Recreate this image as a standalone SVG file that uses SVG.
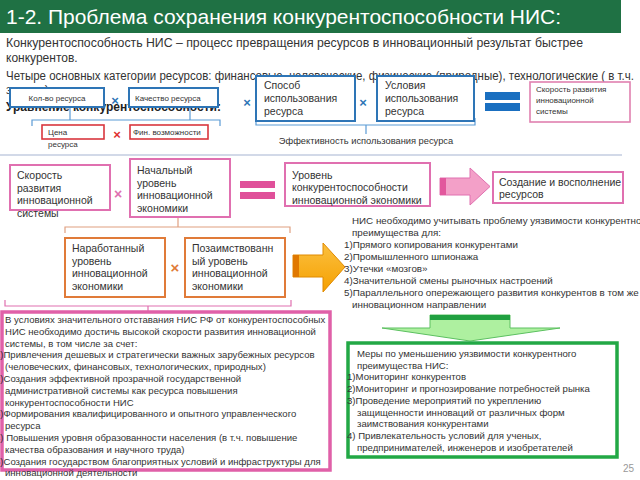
<svg xmlns="http://www.w3.org/2000/svg" width="640" height="480" viewBox="0 0 640 480">
<defs>
<style>
text{font-family:"Liberation Sans","DejaVu Sans",Arial,sans-serif;fill:#333}
.t{font-size:12px}
.s8{font-size:8px}
.s9{font-size:9.8px}
.sp{font-size:9.55px}
.sg{font-size:9.6px}
.s10{font-size:10.5px}
.bb{fill:#fff;stroke:#2e75b6;stroke-width:2}
.rb{fill:#fff;stroke:#d9363e;stroke-width:1.6}
.pb{fill:#fff;stroke:#e070b0;stroke-width:2}
.ob{fill:#fff;stroke:#e07b39;stroke-width:2}
.xb{font-size:13px;font-weight:bold;fill:#2e75b6}
.xr{font-size:13px;font-weight:bold;fill:#e03030}
.xp{font-size:14px;font-weight:bold;fill:#e070b0}
.xo{font-size:15px;font-weight:bold;fill:#e07b39}
</style>
<linearGradient id="og" x1="0" y1="0" x2="0" y2="1"><stop offset="0" stop-color="#fbc040"/><stop offset="1" stop-color="#f5a000"/></linearGradient>
</defs>

<g id="header">
<rect x="0" y="0" width="621" height="33" fill="#1f7144"/>
<text x="6" y="24" textLength="555" lengthAdjust="spacingAndGlyphs" style="font-size:21px;fill:#fff">1-2. Проблема сохранения конкурентоспособности НИС:</text>
</g>

<g id="intro">
<text class="t" x="6" y="47" textLength="577" lengthAdjust="spacingAndGlyphs">Конкурентоспособность НИС – процесс превращения ресурсов в инновационный результат быстрее</text>
<text class="t" x="6" y="62">конкурентов.</text>
<text class="t" x="6" y="80" textLength="628" lengthAdjust="spacingAndGlyphs">Четыре основных категории ресурсов: финансовые, человеческие, физические (природные), технологические ( в т.ч.</text>
<text class="t" x="6" y="94">знания)</text>
<text x="6" y="111" style="font-size:12px;font-weight:bold;fill:#222">Уравнение конкурентоспособности:</text>
</g>

<g id="connectors" fill="none">
<path d="M32,126 V120 H220 V126 M70,107 V120 M190,107 V120" stroke="#5b9bd5" stroke-width="1.2"/>
<path d="M256,118 V125 H475 V118 M366,125 V134" stroke="#5b9bd5" stroke-width="1.2"/>
<line x1="0" y1="155" x2="622" y2="155" stroke="#c3cde0" stroke-width="1.5"/>
<path d="M65,233 V227 H290 V233 M178,217 V227" stroke="#e0a080" stroke-width="1.2"/>
<path d="M5,300 V306 H291 V300 M148,306 V312" stroke="#e070b0" stroke-width="1.2"/>
</g>

<g id="kolvo"><rect class="bb" x="10" y="88" width="94" height="19"/><text class="s8" x="57" y="100.5" text-anchor="middle">Кол-во ресурса</text></g>
<text class="xb" x="115" y="105" text-anchor="middle">×</text>
<g id="kachestvo"><rect class="bb" x="129" y="88" width="89" height="19"/><text class="s8" x="135" y="100.5">Качество ресурса</text></g>
<text class="xb" x="247" y="107" text-anchor="middle">×</text>
<g id="sposob"><rect class="bb" x="256" y="76" width="99" height="45"/>
<text class="s10" x="264"><tspan x="264" y="89">Способ</tspan><tspan x="264" y="102">использования</tspan><tspan x="264" y="115">ресурса</tspan></text></g>
<text class="xb" x="363" y="107" text-anchor="middle">×</text>
<g id="usloviya"><rect class="bb" x="377" y="76" width="97" height="45"/>
<text class="s10" x="385"><tspan x="385" y="89">Условия</tspan><tspan x="385" y="102">использования</tspan><tspan x="385" y="115">ресурса</tspan></text></g>
<g id="eq1" fill="#1a6fc0"><rect x="485" y="92" width="35" height="8"/><rect x="485" y="103" width="35" height="8"/></g>
<g id="skorost1"><rect x="530" y="82" width="100" height="40" fill="#fff" stroke="#e080b0" stroke-width="1.6"/>
<text class="s8" x="536"><tspan x="536" y="92">Скорость развития</tspan><tspan x="536" y="103">инновационной</tspan><tspan x="536" y="114">системы</tspan></text></g>
<g id="tsena"><rect class="rb" x="42" y="125" width="62" height="14"/><text class="s8" x="48"><tspan x="48" y="135">Цена</tspan><tspan x="48" y="147">ресурса</tspan></text></g>
<text class="xr" x="117" y="139" text-anchor="middle">×</text>
<g id="fin"><rect class="rb" x="130" y="125" width="78" height="14"/><text class="s8" x="133" y="135">Фин. возможности</text></g>
<text x="366" y="144" text-anchor="middle" style="font-size:9.3px">Эффективность использования ресурса</text>

<g id="skorost2"><rect class="pb" x="10" y="165" width="100" height="45"/>
<text class="s10"><tspan x="17" y="179">Скорость</tspan><tspan x="17" y="191.5">развития</tspan><tspan x="17" y="204">инновационной</tspan><tspan x="17" y="216.5">системы</tspan></text></g>
<text class="xp" x="118" y="199" text-anchor="middle">×</text>
<g id="nachalny"><rect class="pb" x="130" y="159" width="100" height="58"/>
<text class="s10"><tspan x="137" y="174">Начальный</tspan><tspan x="137" y="186.5">уровень</tspan><tspan x="137" y="199">инновационной</tspan><tspan x="137" y="211.5">экономики</tspan></text></g>
<g id="eq2" fill="#e0509a"><rect x="240" y="181" width="35" height="7"/><rect x="240" y="192" width="35" height="7"/></g>
<g id="uroven"><rect class="pb" x="285" y="163" width="145" height="43"/>
<text class="s10"><tspan x="292" y="178.5">Уровень</tspan><tspan x="292" y="191">конкурентоспособности</tspan><tspan x="292" y="203.5">инновационной экономики</tspan></text></g>
<g id="arrowPink"><polygon points="440,178 470,178 470,168 490,186.5 470,205 470,195 440,195" fill="#f3a0c8" stroke="#e070b0" stroke-width="1"/><rect x="440" y="178" width="6" height="17" fill="#e2579d"/></g>
<g id="sozdanie"><rect class="pb" x="493" y="172" width="130" height="31"/>
<text class="s10"><tspan x="499" y="186">Создание и восполнение</tspan><tspan x="499" y="198">ресурсов</tspan></text></g>

<g id="narabotanny"><rect class="ob" x="65" y="238" width="100" height="59"/>
<text class="s10"><tspan x="72" y="252">Наработанный</tspan><tspan x="72" y="264.5">уровень</tspan><tspan x="72" y="277">инновационной</tspan><tspan x="72" y="289.5">экономики</tspan></text></g>
<text class="xo" x="175" y="273" text-anchor="middle">×</text>
<g id="pozaimstv"><rect class="ob" x="185" y="238" width="100" height="59"/>
<text class="s10"><tspan x="192" y="252">Позаимствованн</tspan><tspan x="192" y="264.5">ый уровень</tspan><tspan x="192" y="277">инновационной</tspan><tspan x="192" y="289.5">экономики</tspan></text></g>
<g id="arrowOrange"><polygon points="293,255 323,255 323,243 345,267 323,292 323,277 293,277" fill="url(#og)" stroke="#e08a00" stroke-width="1"/><rect x="293" y="255" width="6" height="22" fill="#e07800"/></g>

<g id="uyazvimost">
<text class="s9"><tspan x="352" y="224">НИС необходимо учитывать проблему уязвимости конкурентного</tspan><tspan x="352" y="236">преимущества для:</tspan><tspan x="344" y="248">1)Прямого копирования конкурентами</tspan><tspan x="344" y="260">2)Промышленного шпионажа</tspan><tspan x="344" y="272">3)Утечки «мозгов»</tspan><tspan x="344" y="284">4)Значительной смены рыночных настроений</tspan><tspan x="344" y="296">5)Параллельного опережающего развития конкурентов в том же</tspan><tspan x="352" y="308">инновационном направлении</tspan></text>
</g>

<g id="usloviyaRF">
<rect x="2" y="312" width="328" height="158" fill="#fff" stroke="#e060a8" stroke-width="3.5"/>
<text class="sp"><tspan x="5" y="323">В условиях значительного отставания НИС РФ от конкурентоспособных</tspan><tspan x="5" y="334.8">НИС необходимо достичь высокой скорости развития инновационной</tspan><tspan x="5" y="346.6">системы, в том числе за счет:</tspan><tspan x="-5" y="358.4">1)Привлечения дешевых и стратегически важных зарубежных ресурсов</tspan><tspan x="5" y="370.2">(человеческих, финансовых, технологических, природных)</tspan><tspan x="-5" y="382">2)Создания эффективной  прозрачной государственной</tspan><tspan x="5" y="393.8">административной системы как ресурса повышения</tspan><tspan x="5" y="405.6">конкурентоспособности НИС</tspan><tspan x="-5" y="417.4">3)Формирования квалифицированного и опытного управленческого</tspan><tspan x="5" y="429.2">ресурса</tspan><tspan x="-5" y="441">4) Повышения уровня образованности населения (в т.ч. повышение</tspan><tspan x="5" y="452.8">качества образования и научного труда)</tspan><tspan x="-5" y="464.6">5)Создания государством благоприятных условий и инфраструктуры для</tspan><tspan x="5" y="476.4">инновационной деятельности</tspan></text>
</g>

<g id="arrowGreen"><polygon points="430,315 510,315 510,328 560,328 470,341 382,328 430,328" fill="#aef0a0" stroke="#5cc060" stroke-width="1"/><rect x="430" y="315" width="80" height="5" fill="#20a040"/></g>

<g id="mery">
<rect x="348" y="343" width="269" height="114" fill="#fff" stroke="#22a845" stroke-width="3.5"/>
<text class="sg"><tspan x="357" y="357">Меры по  уменьшению уязвимости конкурентного</tspan><tspan x="357" y="368.7">преимущества НИС:</tspan><tspan x="347" y="380.4">1)Мониторинг конкурентов</tspan><tspan x="347" y="392.1">2)Мониторинг и прогнозирование потребностей рынка</tspan><tspan x="347" y="403.8">3)Проведение мероприятий по укреплению</tspan><tspan x="357" y="415.5">защищенности инноваций от различных форм</tspan><tspan x="357" y="427.2">заимствования конкурентами</tspan><tspan x="347" y="438.9">4) Привлекательность условий для ученых,</tspan><tspan x="357" y="450.6">предпринимателей, инженеров и изобретателей</tspan></text>
</g>

<text x="634" y="472" text-anchor="end" style="font-size:10px;fill:#999">25</text>
</svg>
